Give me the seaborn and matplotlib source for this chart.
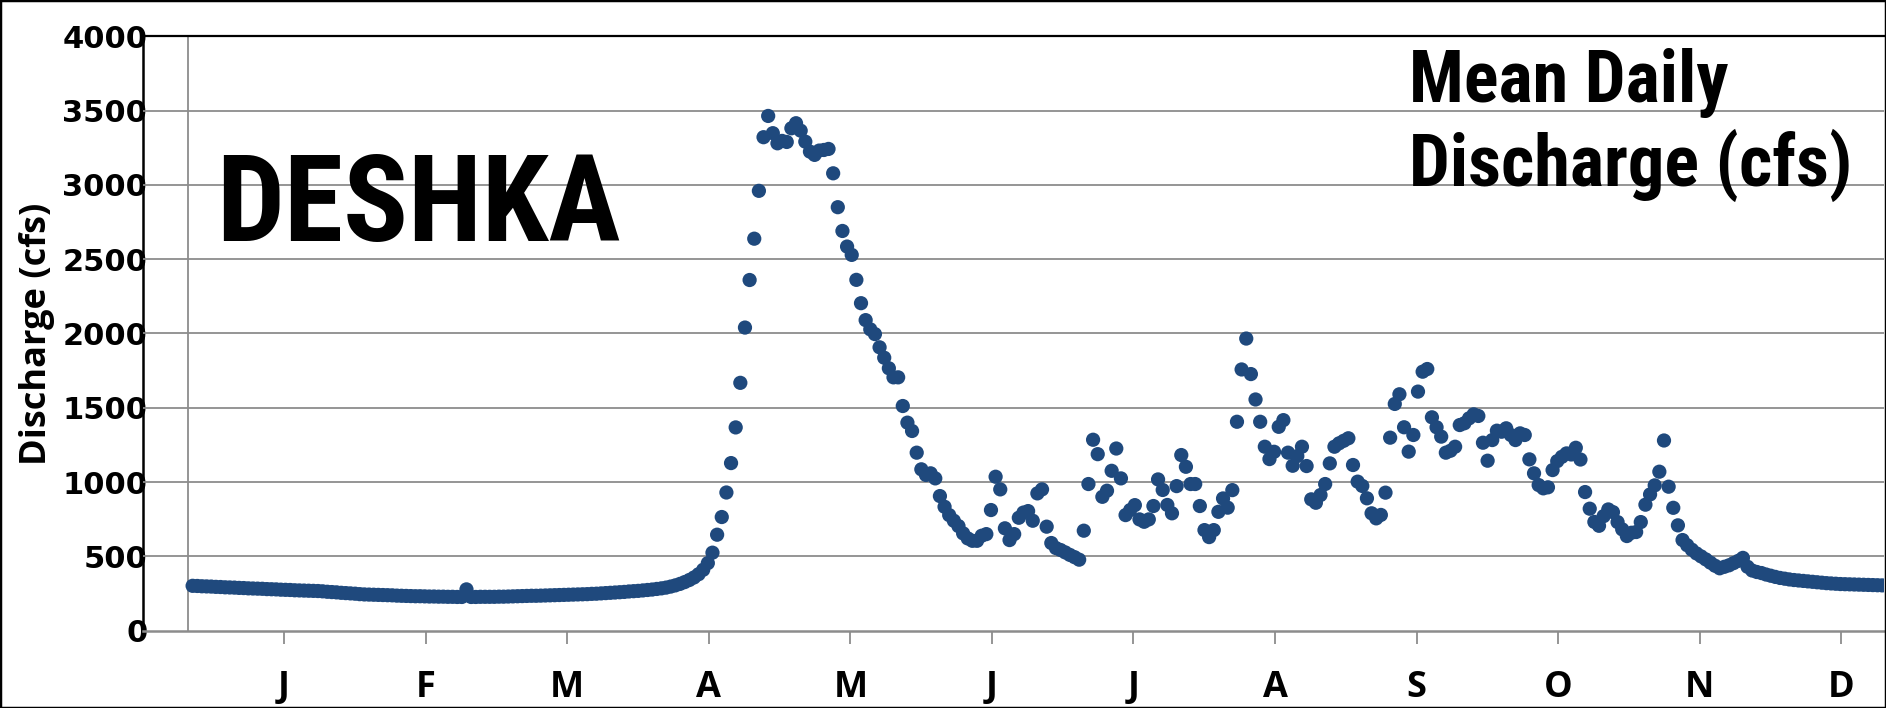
import matplotlib
matplotlib.use("Agg")
import matplotlib.pyplot as plt
import matplotlib.font_manager as fm
from matplotlib.font_manager import FontProperties
from matplotlib.textpath import TextPath
from matplotlib.ft2font import FT2Font
from matplotlib.patches import Rectangle
import seaborn as sns
import pandas as pd

# ---------------- data ----------------
discharge_cfs = [
    # Jan - Apr (winter base flow)
    302, 301, 299, 298, 297, 295, 294, 292, 291, 290, 288, 287, 285, 284,
    283, 282, 280, 279, 278, 276, 275, 274, 272, 271, 270, 269, 268, 267,
    265, 262, 260, 258, 255, 253, 251, 249, 246, 244,
    243, 242, 241, 240, 239, 238, 236, 235, 234, 233,
    232, 232, 231, 230, 230, 229, 229, 228, 228, 227, 227,
    278,
    227, 227, 228, 228, 228, 228, 229, 229,
    230, 231, 232, 233, 234, 235, 235, 236, 237, 238,
    239, 240, 241, 242, 243, 244, 245, 246, 248, 249,
    251, 253, 255, 257, 259, 261, 264, 266, 268, 271,
    274, 277, 281, 285, 290, 297, 305, 315, 327, 341, 358, 380, 410, 455, 525,
    # break-up peak
    646, 765, 930, 1128, 1368, 1668, 2040, 2360, 2638, 2960, 3321, 3464, 3348,
    3280, 3296, 3289, 3381, 3415, 3365, 3291, 3224, 3202, 3231, 3235, 3242,
    3078, 2850, 2690, 2585, 2529, 2361, 2204, 2090, 2028, 1996, 1907, 1837,
    1766, 1705, 1705, 1512, 1400, 1344, 1198, 1086, 1048, 1059, 1025, 906,
    834, 778, 740, 704, 655, 621, 605, 605, 639, 650,
    # summer
    812, 1036, 951, 689, 610, 650, 760, 795, 805, 740, 924, 951, 700, 590,
    556, 543, 527, 510, 495, 478, 673,
    987, 1285, 1188, 901, 942, 1076, 1226, 1025, 778, 812, 845, 749, 733, 749,
    839, 1018, 947, 846, 790, 973, 1182, 1103, 987, 987, 839, 677, 630, 677,
    800, 890, 828, 946,
    1406, 1758, 1966, 1727, 1556, 1406, 1238, 1155, 1204, 1372, 1417, 1198,
    1110, 1175, 1238, 1108, 884, 861, 913, 987, 1126, 1238, 1261, 1278, 1295,
    1115, 1003, 974, 891, 790, 756, 779, 929, 1299, 1526, 1591, 1369, 1205,
    1317, 1609, 1743, 1761, 1436, 1369, 1306, 1198, 1211, 1238, 1384, 1396,
    1429, 1456, 1445, 1265, 1144, 1283, 1346, 1339, 1362, 1317, 1283, 1328,
    1317, 1153, 1059, 980, 958, 965, 1081,
    1141, 1170, 1193, 1186, 1231, 1152,
    # autumn
    933, 821, 732, 706, 771, 816, 798, 731, 682, 637, 659, 664, 731, 848, 917,
    978, 1070, 1280, 969, 827, 709, 610,
    575, 545, 520, 500, 480, 458, 437, 420, 430, 440, 455, 470, 490, 430, 405,
    395, 388, 378, 370, 362, 355, 350, 345, 341, 338, 335, 332, 329, 326, 323,
    320, 318, 316, 314, 313, 312, 311, 310, 309, 308, 307, 306, 305,
]
day_of_year = list(range(len(discharge_cfs)))

month_labels = ["J", "F", "M", "A", "M", "J", "J", "A", "S", "O", "N", "D"]
month_tick_days = [19.7, 50.2, 80.7, 111.2, 141.7, 172.2, 202.7, 233.2,
                   263.7, 294.2, 324.7, 355.2]
y_ticks = [0, 500, 1000, 1500, 2000, 2500, 3000, 3500, 4000]

df = pd.DataFrame({"day": day_of_year, "cfs": discharge_cfs})

# ---------------- fonts ----------------
sns.set_style("white")
plt.rcParams["font.family"] = ["DejaVu Sans"]
plt.rcParams["text.color"] = "black"
plt.rcParams["axes.labelcolor"] = "black"

names = {f.name for f in fm.fontManager.ttflist}


def _weight(w):
    if isinstance(w, (int, float)):
        return int(w)
    return {"bold": 700, "heavy": 800, "black": 900, "semibold": 600,
            "demibold": 600, "extra bold": 800, "ultrabold": 800}.get(str(w).lower(), 400)


BASES = [("Liberation Sans", 0.0), ("Arial", 0.0), ("Noto Sans", 0.1),
         ("Open Sans", 0.1), ("Roboto", 0.15), ("Lato", 0.2),
         ("Inter", 0.25), ("DejaVu Sans", 0.3)]
WIDTH_SUFFIXES = ["", " Narrow", " Condensed", " SemiCondensed", " Semi Condensed",
                  " ExtraCondensed", " Extra Condensed"]
ALLOWED = {b + s: pen for b, pen in BASES for s in WIDTH_SUFFIXES}


def _has_latin(fname):
    try:
        cmap = FT2Font(fname).get_charmap()
    except Exception:
        return False
    return all(ord(c) in cmap for c in "DESHKAMeanDilyscrg(f)")


def _shape_ratio(fp, s):
    w = TextPath((0, 0), s, size=100, prop=fp).get_extents().width
    cap = TextPath((0, 0), "H", size=100, prop=fp).get_extents().height
    return w / cap


def pick_title_font(sample, target_ratio):
    """Pick an installed bold sans font whose proportions best match."""
    best, best_score = None, None
    seen = set()
    for f in fm.fontManager.ttflist:
        nm = f.name
        if nm not in ALLOWED or f.fname in seen:
            continue
        wt = _weight(f.weight)
        if wt < 650 or wt > 800 or str(f.style) != "normal":
            continue
        seen.add(f.fname)
        if not _has_latin(f.fname):
            continue
        try:
            fp = FontProperties(fname=f.fname)
            r = _shape_ratio(fp, sample)
        except Exception:
            continue
        score = abs(r - target_ratio) / target_ratio + ALLOWED[nm] * 0.3
        if best_score is None or score < best_score:
            best, best_score = fp, score
    if best is None:
        best = FontProperties(family="Liberation Sans", weight="bold")
    return best


title_fp = pick_title_font("DESHKA", 402 / 84.0)
label_font = "Open Sans" if "Open Sans" in names else "DejaVu Sans"

# ---------------- figure ----------------
W, H = 1886, 708
DPI = 100
fig = plt.figure(figsize=(W / DPI, H / DPI), dpi=DPI)
fig.patch.set_facecolor("white")

ax_left, ax_right = 142.5, 1884.0
ax_top, ax_bottom = 36.3, 630.7
ax = fig.add_axes([ax_left / W, (H - ax_bottom) / H,
                   (ax_right - ax_left) / W, (ax_bottom - ax_top) / H])

grid_c = "#8C8C8C"
for v in y_ticks[1:-1]:
    ax.axhline(v, color=grid_c, lw=1.3, zorder=1)
ax.axvline(-0.9, color=grid_c, lw=1.3, zorder=1)

sns.scatterplot(data=df, x="day", y="cfs", ax=ax, color="#1F497D",
                s=105, linewidth=0, edgecolor="none", legend=False, zorder=3)

ax.set_xlim(-10.8, 364.4)
ax.set_ylim(0, 4000)
ax.set_xlabel("")
ax.set_ylabel("")

ax.set_yticks(y_ticks)
ax.set_yticklabels([str(v) for v in y_ticks], fontsize=22, fontweight="bold",
                   family="DejaVu Sans", color="black")
ax.tick_params(axis="y", length=0, pad=-3.5)

ax.set_xticks(month_tick_days)
ax.set_xticklabels(month_labels, fontsize=26, fontweight="bold",
                   family=label_font, color="black")
ax.tick_params(axis="x", length=9, width=1.3, color=grid_c, pad=19,
               direction="out", bottom=True, labelcolor="black")

ax.spines["left"].set_color("black")
ax.spines["left"].set_linewidth(1.8)
ax.spines["left"].set_zorder(0.5)
ax.spines["top"].set_color("black")
ax.spines["top"].set_linewidth(1.6)
ax.spines["bottom"].set_color(grid_c)
ax.spines["bottom"].set_linewidth(1.8)
ax.spines["right"].set_visible(False)

# y-axis title
fig.text(37 / W, (H - 333.5) / H, "Discharge (cfs)", rotation=90,
         ha="center", va="center", fontsize=26, fontweight="bold",
         family=label_font, color="black")

# in-chart titles: size balanced between target width and target cap height
cap_per_pt = TextPath((0, 0), "H", size=100, prop=title_fp).get_extents().height / 100.0


def fitted_size(s, target_w, target_cap):
    w_per_pt = TextPath((0, 0), s, size=100, prop=title_fp).get_extents().width / 100.0
    size_w = target_w * 72.0 / DPI / w_per_pt
    size_h = target_cap * 72.0 / DPI / cap_per_pt
    return min((size_w * size_h) ** 0.5, size_w * 1.04)


def title_text(x_px, base_px, s, size):
    return fig.text(x_px / W, (H - base_px) / H, s, fontproperties=title_fp,
                    fontsize=size, ha="left", va="baseline", color="black")


title_text(216, 241, "DESHKA", fitted_size("DESHKA", 404, 84))
sub_size = fitted_size("Discharge (cfs)", 430, 52)
title_text(1409, 102, "Mean Daily", sub_size)
title_text(1409, 186, "Discharge (cfs)", sub_size)

# outer frame
fig.add_artist(Rectangle((0, 0), 1, 1, transform=fig.transFigure, fill=False,
                         ec="black", lw=2.5, zorder=10))

fig.savefig("out.png", dpi=DPI, facecolor="white")
